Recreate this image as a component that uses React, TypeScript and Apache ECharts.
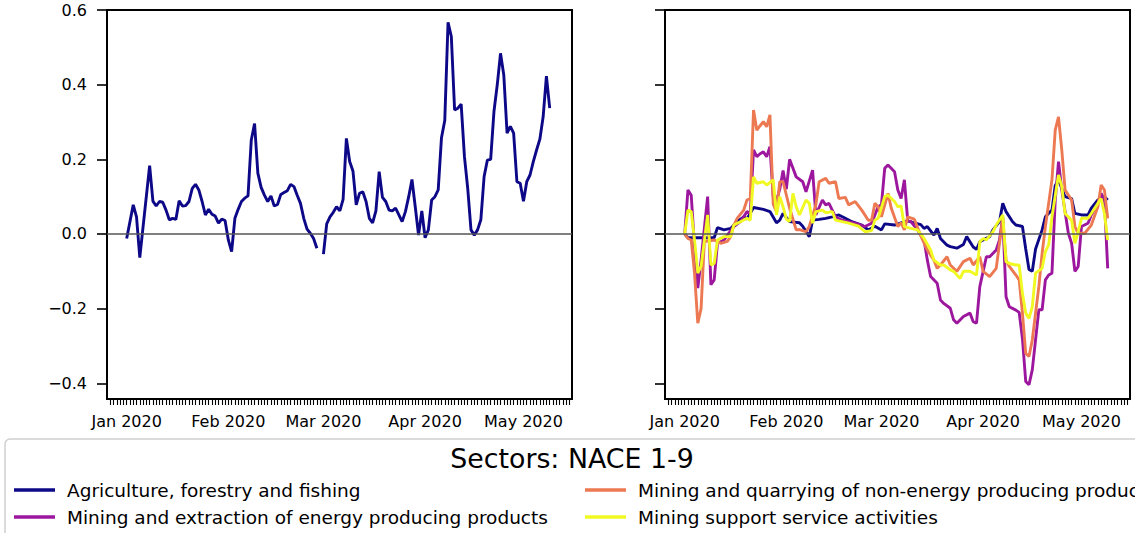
import React, { useEffect, useRef } from "react";
import * as echarts from "echarts";

// ---- axis ticks ----
const monthTickDays = [0, 31, 60, 91, 121]; // days since 2020-01-01
const monthTickLabels = ["Jan 2020", "Feb 2020", "Mar 2020", "Apr 2020", "May 2020"];
const yTicks = [-0.4, -0.2, 0, 0.2, 0.4, 0.6];

// ---- legend ----
const legendTitle = "Sectors: NACE 1-9";
const sectorNames = [
  "Agriculture, forestry and fishing",
  "Mining and extraction of energy producing products",
  "Mining and quarrying of non-energy producing products",
  "Mining support service activities",
];
const sectorColors = ["#0d0887", "#9c179e", "#ed7953", "#f0f921"];

// ---- data: [day since 2020-01-01, value] ----
const leftAgriculture: [number, number | null][] = [
  [0, -0.012], [2, 0.078], [3, 0.046], [4, -0.063], [7, 0.183], [8, 0.088], [9, 0.075], [10, 0.087],
  [11, 0.085], [12, 0.064], [13, 0.038], [14, 0.042], [15, 0.039], [16, 0.089], [17, 0.075], [18, 0.076],
  [19, 0.087], [20, 0.122], [21, 0.133], [22, 0.118], [23, 0.087], [24, 0.051], [25, 0.066], [26, 0.053],
  [27, 0.048], [28, 0.029], [29, 0.04], [30, 0.036], [31, -0.016], [32, -0.047], [33, 0.042], [34, 0.066],
  [35, 0.087], [36, 0.096], [37, 0.102], [38, 0.252], [39, 0.296], [40, 0.163], [41, 0.125], [42, 0.104],
  [43, 0.087], [44, 0.102], [45, 0.075], [46, 0.079], [47, 0.106], [48, 0.111], [49, 0.116], [50, 0.133],
  [51, 0.127], [52, 0.104], [53, 0.082], [54, 0.042], [55, 0.013], [56, 0.002], [57, -0.012], [58, -0.038],
  [59, null], [60, -0.054], [61, 0.027], [62, 0.046], [63, 0.058], [64, 0.073], [65, 0.062], [66, 0.093],
  [67, 0.256], [68, 0.194], [69, 0.169], [70, 0.078], [71, 0.109], [72, 0.113], [73, 0.087], [74, 0.042],
  [75, 0.03], [76, 0.062], [77, 0.167], [78, 0.098], [79, 0.087], [80, 0.064], [81, 0.062], [82, 0.069],
  [83, 0.051], [84, 0.033], [85, 0.06], [86, 0.1], [87, 0.146], [88, 0.073], [89, -0.003], [90, 0.062],
  [91, -0.01], [92, 0.011], [93, 0.091], [94, 0.1], [95, 0.118], [96, 0.258], [97, 0.304], [98, 0.567],
  [99, 0.529], [100, 0.332], [101, 0.337], [102, 0.348], [103, 0.207], [104, 0.122], [105, 0.011], [106, -0.003],
  [107, 0.011], [108, 0.038], [109, 0.154], [110, 0.198], [111, 0.2], [112, 0.328], [113, 0.399], [114, 0.484],
  [115, 0.426], [116, 0.27], [117, 0.288], [118, 0.27], [119, 0.14], [120, 0.136], [121, 0.088], [122, 0.14],
  [123, 0.158], [124, 0.194], [125, 0.225], [126, 0.254], [127, 0.314], [128, 0.423], [129, 0.337],
];

const rightAgriculture: [number, number][] = [
  [0, 0], [1, -0.01], [9, -0.01], [10, 0.017], [12, 0.011], [14, 0.015], [16, 0.033], [18, 0.046],
  [19, 0.04], [21, 0.071], [24, 0.066], [26, 0.06], [28, 0.03], [29, 0.037], [30, 0.055], [32, 0.033],
  [35, 0.03], [36, 0.021], [38, -0.007], [39, 0.037], [41, 0.039], [43, 0.042], [45, 0.046], [47, 0.051],
  [49, 0.042], [51, 0.033], [54, 0.024], [56, 0.011], [58, 0.021], [60, 0.011], [61, 0.027], [64, 0.024],
  [66, 0.03], [68, 0.035], [70, 0.03], [72, 0.025], [73, 0.015], [74, 0.02], [76, -0.003], [77, 0.015],
  [78, -0.012], [80, -0.03], [81, -0.034], [83, -0.038], [85, -0.028], [86, -0.007], [88, -0.035], [89, -0.041],
  [90, -0.021], [91, -0.016], [93, -0.007], [94, 0.011], [96, 0.033], [97, 0.082], [98, 0.06], [100, 0.033],
  [101, 0.024], [103, 0.02], [104, -0.04], [105, -0.095], [106, -0.1], [107, -0.04], [109, 0.011], [110, 0.046],
  [112, 0.064], [113, 0.13], [114, 0.145], [116, 0.1], [118, 0.095], [119, 0.055], [121, 0.051], [123, 0.051],
  [124, 0.069], [126, 0.091], [128, 0.1], [129, 0.091],
];

const rightEnergy: [number, number][] = [
  [0, 0], [1, 0.118], [2, 0.104], [3, -0.034], [4, -0.145], [5, -0.07], [7, 0.1], [8, -0.136],
  [9, -0.123], [10, -0.025], [12, -0.016], [13, -0.003], [15, 0.02], [17, 0.033], [19, 0.06], [20, 0.055],
  [21, 0.225], [22, 0.207], [23, 0.215], [24, 0.22], [25, 0.207], [26, 0.234], [27, 0.1], [28, 0.09],
  [29, 0.12], [30, 0.17], [31, 0.12], [32, 0.2], [34, 0.153], [36, 0.14], [37, 0.113], [39, 0.171],
  [40, 0.051], [42, 0.091], [43, 0.078], [44, 0.082], [46, 0.046], [48, 0.037], [50, 0.033], [52, 0.029],
  [55, 0.02], [57, 0.029], [59, 0.073], [60, 0.078], [61, 0.176], [62, 0.185], [64, 0.167], [65, 0.118],
  [66, 0.095], [67, 0.145], [68, 0.037], [69, 0.033], [71, 0.011], [73, -0.016], [74, -0.07], [75, -0.114],
  [77, -0.132], [78, -0.177], [79, -0.186], [81, -0.199], [82, -0.23], [83, -0.239], [85, -0.221], [87, -0.212],
  [88, -0.235], [89, -0.239], [90, -0.141], [92, -0.061], [93, -0.061], [95, -0.043], [96, -0.016], [97, 0.046],
  [98, -0.168], [99, -0.195], [101, -0.204], [102, -0.21], [103, -0.28], [104, -0.395], [105, -0.404], [106, -0.364],
  [108, -0.203], [109, -0.203], [110, -0.123], [111, -0.11], [112, -0.105], [113, 0.091], [114, 0.194], [115, 0.118],
  [117, 0.002], [118, -0.025], [119, -0.1], [120, -0.087], [121, 0.02], [123, 0.029], [124, 0.051], [126, 0.082],
  [127, 0.109], [128, 0.091], [129, -0.092],
];

const rightNonEnergy: [number, number][] = [
  [0, 0], [1, -0.012], [2, -0.016], [3, -0.105], [4, -0.239], [5, -0.2], [6, -0.02], [9, -0.016],
  [11, -0.025], [13, -0.02], [14, -0.007], [15, 0.024], [16, 0.042], [18, 0.064], [19, 0.091], [20, 0.095],
  [21, 0.332], [22, 0.278], [23, 0.29], [24, 0.301], [25, 0.287], [26, 0.319], [27, 0.08], [28, 0.06],
  [29, 0.14], [30, 0.14], [32, 0.069], [34, 0.011], [35, 0.012], [37, 0.006], [38, 0.02], [40, 0.078],
  [41, 0.14], [43, 0.149], [44, 0.136], [46, 0.14], [47, 0.095], [49, 0.098], [50, 0.078], [52, 0.087],
  [54, 0.064], [56, 0.037], [57, 0.037], [58, 0.082], [59, 0.073], [60, 0.046], [62, 0.109], [63, 0.069],
  [65, 0.02], [66, 0.03], [67, 0.011], [68, 0.046], [70, 0.04], [72, -0.005], [74, -0.043], [76, -0.07],
  [77, -0.092], [78, -0.083], [80, -0.061], [81, -0.083], [83, -0.1], [85, -0.074], [87, -0.065], [88, -0.083],
  [90, -0.061], [91, -0.1], [93, -0.114], [95, -0.092], [97, 0.042], [98, -0.07], [99, -0.087], [101, -0.11],
  [102, -0.123], [103, -0.212], [104, -0.32], [105, -0.328], [106, -0.284], [108, -0.141], [109, -0.052], [110, 0.02],
  [112, 0.145], [113, 0.278], [114, 0.314], [115, 0.225], [116, 0.118], [118, 0.091], [119, 0.02], [120, 0.002],
  [122, 0.002], [124, 0.024], [126, 0.073], [127, 0.131], [128, 0.118], [129, 0.042],
];

const rightSupport: [number, number][] = [
  [0, 0], [1, 0.064], [2, 0.06], [3, -0.016], [4, -0.105], [5, -0.087], [7, 0.051], [8, -0.083],
  [9, -0.079], [10, -0.016], [12, -0.007], [14, -0.007], [15, 0.024], [17, 0.033], [19, 0.042], [20, 0.037],
  [21, 0.153], [22, 0.136], [24, 0.14], [25, 0.131], [27, 0.145], [28, 0.051], [29, 0.1], [30, 0.073],
  [31, 0.04], [32, 0.033], [33, 0.109], [34, 0.073], [35, 0.051], [37, 0.091], [38, 0.082], [39, 0.029],
  [40, 0.06], [42, 0.064], [43, 0.057], [45, 0.06], [46, 0.037], [48, 0.033], [50, 0.029], [53, 0.021],
  [55, 0.006], [57, 0.009], [58, 0.037], [59, 0.042], [61, 0.1], [62, 0.104], [64, 0.087], [65, 0.073],
  [66, 0.075], [67, 0.02], [69, 0.015], [71, 0.011], [73, -0.012], [75, -0.043], [76, -0.07], [78, -0.083],
  [79, -0.083], [81, -0.096], [82, -0.1], [84, -0.119], [85, -0.1], [87, -0.1], [89, -0.11], [90, -0.021],
  [91, -0.012], [92, -0.016], [94, 0.006], [95, 0.024], [97, 0.051], [98, -0.074], [99, -0.079], [101, -0.083],
  [102, -0.083], [103, -0.159], [104, -0.212], [105, -0.226], [106, -0.195], [107, -0.105], [109, -0.092], [110, -0.047],
  [111, -0.029], [112, 0.046], [114, 0.158], [115, 0.127], [116, 0.055], [118, 0.037], [119, -0.025], [120, 0.006],
  [121, 0.042], [123, 0.042], [124, 0.055], [126, 0.082], [127, 0.095], [128, 0.055], [129, -0.016],
];

const FONT = "DejaVu Sans";
// day range (min is a whole day so the daily ticks, counted from min, fall on whole days)
const X_MIN = -6;
const X_MAX = 135.8;
const Y_MIN = -0.442;
const Y_MAX = 0.6;

const fmtY = (v: number) => v.toFixed(1).replace("-", "\u2212");
const fmtX = (v: number) => {
  const i = monthTickDays.indexOf(Math.round(v));
  return Math.abs(v - Math.round(v)) < 1e-6 && i >= 0 ? monthTickLabels[i] : "";
};

// x axis: a tick every day, label only on the first of each month
function mainXAxis(gridIndex: number) {
  return {
    type: "value",
    gridIndex,
    position: "bottom",
    min: X_MIN,
    max: X_MAX,
    interval: 1,
    axisLine: { show: true, onZero: false, lineStyle: { color: "#000", width: 2 } },
    axisTick: { show: true, length: 6, lineStyle: { color: "#000", width: 1.1 } },
    axisLabel: {
      show: true,
      formatter: fmtX,
      showMinLabel: false,
      showMaxLabel: false,
      fontSize: 16,
      fontFamily: FONT,
      color: "#000",
      margin: 14,
    },
    splitLine: { show: false },
    z: 5,
  };
}

function yAxis(gridIndex: number, showLabels: boolean) {
  return {
    type: "value",
    gridIndex,
    min: Y_MIN,
    max: Y_MAX,
    axisLine: { show: true, onZero: false, lineStyle: { color: "#000", width: 2 } },
    axisTick: { show: true, customValues: yTicks, length: 10, lineStyle: { color: "#000", width: 1.6 } },
    axisLabel: {
      show: showLabels,
      customValues: yTicks,
      formatter: fmtY,
      fontSize: 16,
      fontFamily: FONT,
      color: "#000",
      margin: 20,
    },
    splitLine: { show: false },
  };
}

const zeroLine = {
  silent: true,
  symbol: ["none", "none"],
  label: { show: false },
  lineStyle: { color: "#555555", width: 1.5, type: "solid" },
  data: [{ yAxis: 0 }],
};

function lineSeries(name: string, color: string, data: [number, number | null][], xAxisIndex: number, yAxisIndex: number, withZero: boolean) {
  return {
    name,
    type: "line",
    xAxisIndex,
    yAxisIndex,
    showSymbol: false,
    symbol: "none",
    connectNulls: false,
    data: data.map(([d, v]) => [d, v === null ? "-" : v]),
    lineStyle: { color, width: 2.9 },
    itemStyle: { color },
    markLine: withZero ? zeroLine : undefined,
    z: 3,
  };
}

export default function App() {
  const ref = useRef<HTMLDivElement>(null);

  useEffect(() => {
    if (!ref.current) return;
    const chart = echarts.init(ref.current, undefined, { renderer: "svg" });

    const legendText = {
      fontSize: 18.5,
      fontFamily: FONT,
      color: "#000",
      lineHeight: 22,
      padding: [0, 0, 0, 7],
    };

    chart.setOption({
      animation: false,
      backgroundColor: "#ffffff",
      grid: [
        { left: 107, top: 10, width: 465, height: 389, show: true, borderColor: "#000", borderWidth: 2, backgroundColor: "transparent" },
        { left: 665, top: 10, width: 465, height: 389, show: true, borderColor: "#000", borderWidth: 2, backgroundColor: "transparent" },
      ],
      xAxis: [mainXAxis(0), mainXAxis(1)],
      yAxis: [yAxis(0, true), yAxis(1, false)],
      legend: [
        {
          data: [sectorNames[0], sectorNames[1]],
          orient: "vertical",
          left: 14,
          top: 479,
          icon: "rect",
          itemWidth: 41,
          itemHeight: 3.5,
          itemGap: 5,
          selectedMode: false,
          padding: 0,
          textStyle: legendText,
        },
        {
          data: [sectorNames[2], sectorNames[3]],
          orient: "vertical",
          left: 585,
          top: 479,
          icon: "rect",
          itemWidth: 41,
          itemHeight: 3.5,
          itemGap: 5,
          selectedMode: false,
          padding: 0,
          textStyle: legendText,
        },
      ],
      graphic: [
        {
          type: "rect",
          z: 0,
          shape: { x: 5, y: 439, width: 1200, height: 150, r: 5 },
          style: { fill: "#ffffff", stroke: "#d0d0d0", lineWidth: 1.5 },
        },
        {
          type: "text",
          z: 1,
          x: 572,
          y: 458,
          style: {
            text: legendTitle,
            fontSize: 26.8,
            fontFamily: FONT,
            fill: "#000",
            align: "center",
            verticalAlign: "middle",
          },
        },
      ],
      series: [
        lineSeries(sectorNames[0], sectorColors[0], leftAgriculture, 0, 0, true),
        lineSeries(sectorNames[0], sectorColors[0], rightAgriculture, 1, 1, true),
        lineSeries(sectorNames[1], sectorColors[1], rightEnergy, 1, 1, false),
        lineSeries(sectorNames[2], sectorColors[2], rightNonEnergy, 1, 1, false),
        lineSeries(sectorNames[3], sectorColors[3], rightSupport, 1, 1, false),
      ],
    });

    return () => chart.dispose();
  }, []);

  return (
    <div
      ref={ref}
      style={{ position: "fixed", left: 0, top: 0, width: "1135px", height: "533px", background: "#fff" }}
    />
  );
}
